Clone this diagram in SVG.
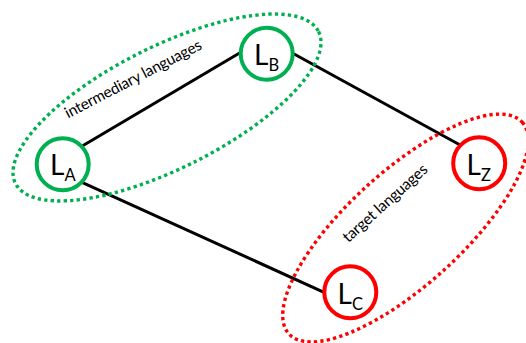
<svg xmlns="http://www.w3.org/2000/svg" width="526" height="343" viewBox="0 0 526 343">
<style>
.bg{fill:#ffffff}
.edge{stroke:#000000;stroke-width:3;fill:none;stroke-linecap:butt}
.green{stroke:#00B050}
.red{stroke:#FF0000}
.node{fill:#ffffff;stroke-width:4}
.group{fill:none;stroke-width:3.4;stroke-dasharray:3.3 3.2}
.lbl{font-family:Lato,"Open Sans","Liberation Sans",sans-serif;font-size:28px;fill:#000000}
.sub{font-size:16.5px}
.glbl{font-family:Lato,"Open Sans","Liberation Sans",sans-serif;font-size:15.5px;fill:#000000;text-anchor:middle}
</style>
<rect class="bg" x="0" y="0" width="526" height="343"/>
<g id="connectors">
<line class="edge" x1="82.7" y1="145.7" x2="240" y2="52.7"/>
<line class="edge" x1="292.7" y1="53.3" x2="461" y2="145.5"/>
<line class="edge" x1="82" y1="182.3" x2="324" y2="292.3"/>
</g>
<g id="group-intermediary">
<ellipse class="group green" cx="167" cy="107.5" rx="169.5" ry="61" transform="rotate(-26.6 167 107.5)"/>
<text class="glbl" x="135.5" y="83.5" textLength="152" transform="rotate(-27.5 135.5 83.5)">intermediary languages</text>
</g>
<g id="group-target">
<ellipse class="group red" cx="405.5" cy="228" rx="157.5" ry="57" transform="rotate(-42.2 405.5 228)"/>
<text class="glbl" x="388.5" y="207" textLength="108" transform="rotate(-42 388.5 207)">target languages</text>
</g>
<g id="node-LA">
<circle class="node green" cx="62.7" cy="164.2" r="26"/>
<text class="lbl" x="50" y="175">L<tspan class="sub" dy="6">A</tspan></text>
</g>
<g id="node-LB">
<circle class="node green" cx="266.7" cy="53.8" r="26"/>
<text class="lbl" x="254" y="65">L<tspan class="sub" dy="6">B</tspan></text>
</g>
<g id="node-LZ">
<circle class="node red" cx="479.2" cy="163.3" r="26"/>
<text class="lbl" x="466.5" y="174.5">L<tspan class="sub" dy="6">Z</tspan></text>
</g>
<g id="node-LC">
<circle class="node red" cx="350.3" cy="292.2" r="26"/>
<text class="lbl" x="337.6" y="303.5">L<tspan class="sub" dy="6">C</tspan></text>
</g>
</svg>
